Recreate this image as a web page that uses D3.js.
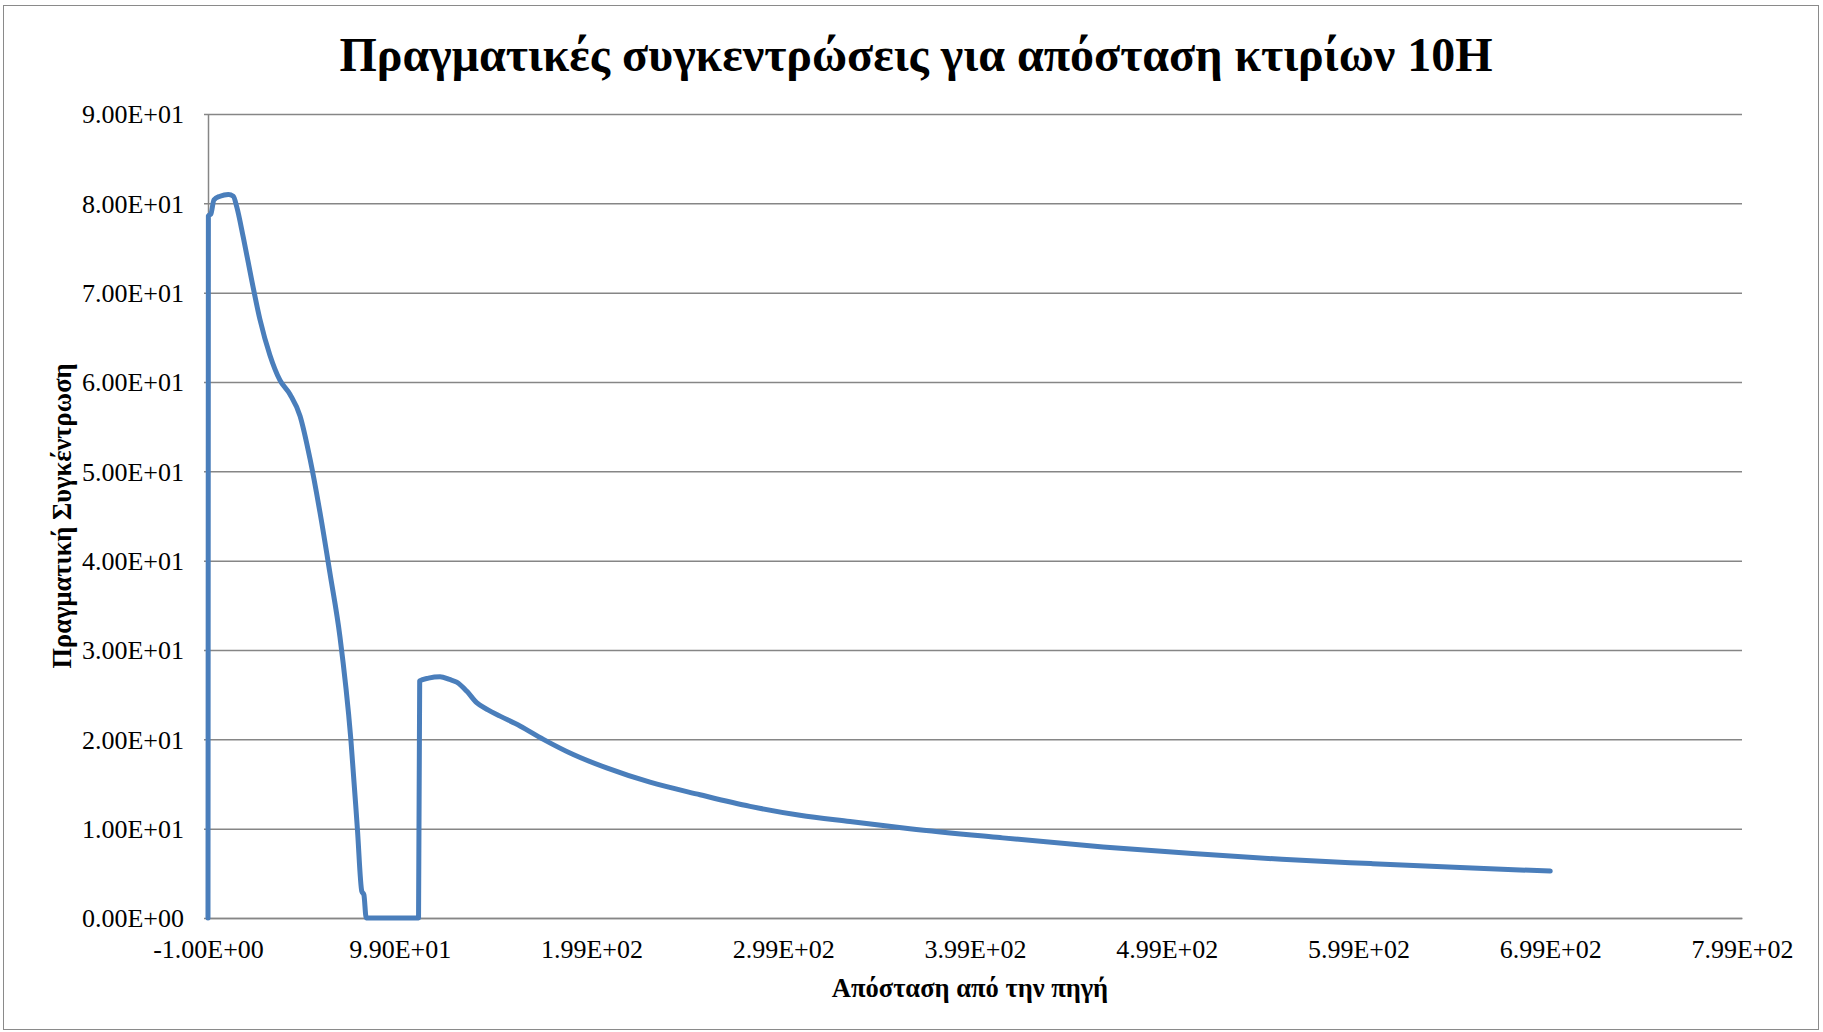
<!DOCTYPE html>
<html>
<head>
<meta charset="utf-8">
<script src="https://cdn.jsdelivr.net/npm/d3@7"></script>
<style>
  body { margin: 0; background: #fff; }
  svg text { font-family: "Liberation Serif", "Times New Roman", serif; fill: #000; }
</style>
</head>
<body>
<div id="chart"></div>
<script>
var distX = [-1, -0.8, 0.5, 2.1, 5.3, 9.6, 12.2, 14, 17.4, 21.8, 26.1, 31.3, 36.5, 41.8, 47, 52.2, 57.4, 62.6, 67.8, 73.5, 76.9, 79.2, 80.3, 81.5,
  108.8, 109.4, 114, 120, 125, 128.7, 133.9, 139.1, 145, 151.3, 161.7, 173.9, 189.5, 206.9, 229.5, 255.6, 281.7, 307.7, 333.8, 365, 412, 465.8, 512.4, 559, 605.5, 652, 699];
var concY = [0, 78.6, 78.8, 80.4, 80.8, 81.0, 80.8, 79.6, 76.2, 71.4, 67.0, 63.0, 60.2, 58.6, 56.2, 51.4, 45.4, 38.6, 31.5, 20.0, 10.0, 3.0, 2.6, 0,
  0, 26.55, 26.85, 27.0, 26.7, 26.4, 25.4, 24.1, 23.3, 22.6, 21.5, 20.0, 18.3, 16.8, 15.2, 13.8, 12.5, 11.5, 10.8, 10.0, 9.0, 7.95, 7.21, 6.57, 6.09, 5.64, 5.25];

var xTicks = [-1, 99, 199, 299, 399, 499, 599, 699, 799];
var yTicks = [0, 10, 20, 30, 40, 50, 60, 70, 80, 90];

var chartTitle = "Πραγματικές συγκεντρώσεις για απόσταση κτιρίων 10Η";
var xTitle = "Απόσταση από την πηγή";
var yTitle = "Πραγματική Συγκέντρωση";

var width = 1823, height = 1032;
var plot = { left: 208, right: 1742, top: 114, bottom: 918 };

var data = distX.map(function (d, i) { return { x: d, y: concY[i] }; });

var svg = d3.select("#chart").append("svg")
  .attr("width", width)
  .attr("height", height);

// outer chart border
svg.append("rect")
  .attr("x", 3.5).attr("y", 5.5)
  .attr("width", 1815).attr("height", 1024)
  .attr("fill", "none")
  .attr("stroke", "#8a8a8a")
  .attr("stroke-width", 1);

var xScale = d3.scaleLinear()
  .domain([-1, 799])
  .range([plot.left, plot.right]);

var yScale = d3.scaleLinear()
  .domain([0, 90])
  .range([plot.bottom, plot.top]);

function sci(v) {
  var s = v.toExponential(2).toUpperCase();   // e.g. 9.90E+1
  return s.replace(/E([+-])(\d)$/, "E$10$2");
}

// gridlines + y axis
var yAxis = svg.append("g")
  .attr("class", "axis y")
  .attr("transform", "translate(" + plot.left + ",0)")
  .call(d3.axisLeft(yScale)
    .tickValues(yTicks)
    .tickSize(-(plot.right - plot.left))
    .tickSizeOuter(0)
    .tickPadding(24)
    .tickFormat(sci));
yAxis.select(".domain").attr("stroke", "#868686").attr("stroke-width", 1.5);
yAxis.selectAll(".tick line")
  .attr("x1", -4)
  .attr("stroke", "#868686")
  .attr("stroke-width", 1.5);
yAxis.selectAll(".tick text")
  .style("font-size", "26px")
  .attr("dy", "0.34em");

// x axis
var xAxis = svg.append("g")
  .attr("class", "axis x")
  .attr("transform", "translate(0," + plot.bottom + ")")
  .call(d3.axisBottom(xScale)
    .tickValues(xTicks)
    .tickSize(0)
    .tickPadding(22)
    .tickFormat(sci));
xAxis.select(".domain").attr("stroke", "#868686").attr("stroke-width", 1.5);
xAxis.selectAll(".tick text")
  .style("font-size", "26px");

// concentration line (smoothed like the spreadsheet chart)
var line = d3.line()
  .curve(d3.curveMonotoneX)
  .x(function (d) { return xScale(d.x); })
  .y(function (d) { return yScale(d.y); });

svg.append("path")
  .datum(data)
  .attr("d", line)
  .attr("fill", "none")
  .attr("stroke", "#4a7ebb")
  .attr("stroke-width", 5)
  .attr("stroke-linejoin", "round")
  .attr("stroke-linecap", "round");

// titles
svg.append("text")
  .attr("x", 916)
  .attr("y", 71)
  .attr("text-anchor", "middle")
  .style("font-size", "48px")
  .style("font-weight", "bold")
  .text(chartTitle);

svg.append("text")
  .attr("x", (plot.left + plot.right) / 2 - 5)
  .attr("y", 997)
  .attr("text-anchor", "middle")
  .style("font-size", "26.5px")
  .style("font-weight", "bold")
  .text(xTitle);

svg.append("text")
  .attr("transform", "translate(71," + ((plot.top + plot.bottom) / 2) + ")rotate(-90)")
  .attr("text-anchor", "middle")
  .style("font-size", "26.5px")
  .style("font-weight", "bold")
  .text(yTitle);
</script>
</body>
</html>
